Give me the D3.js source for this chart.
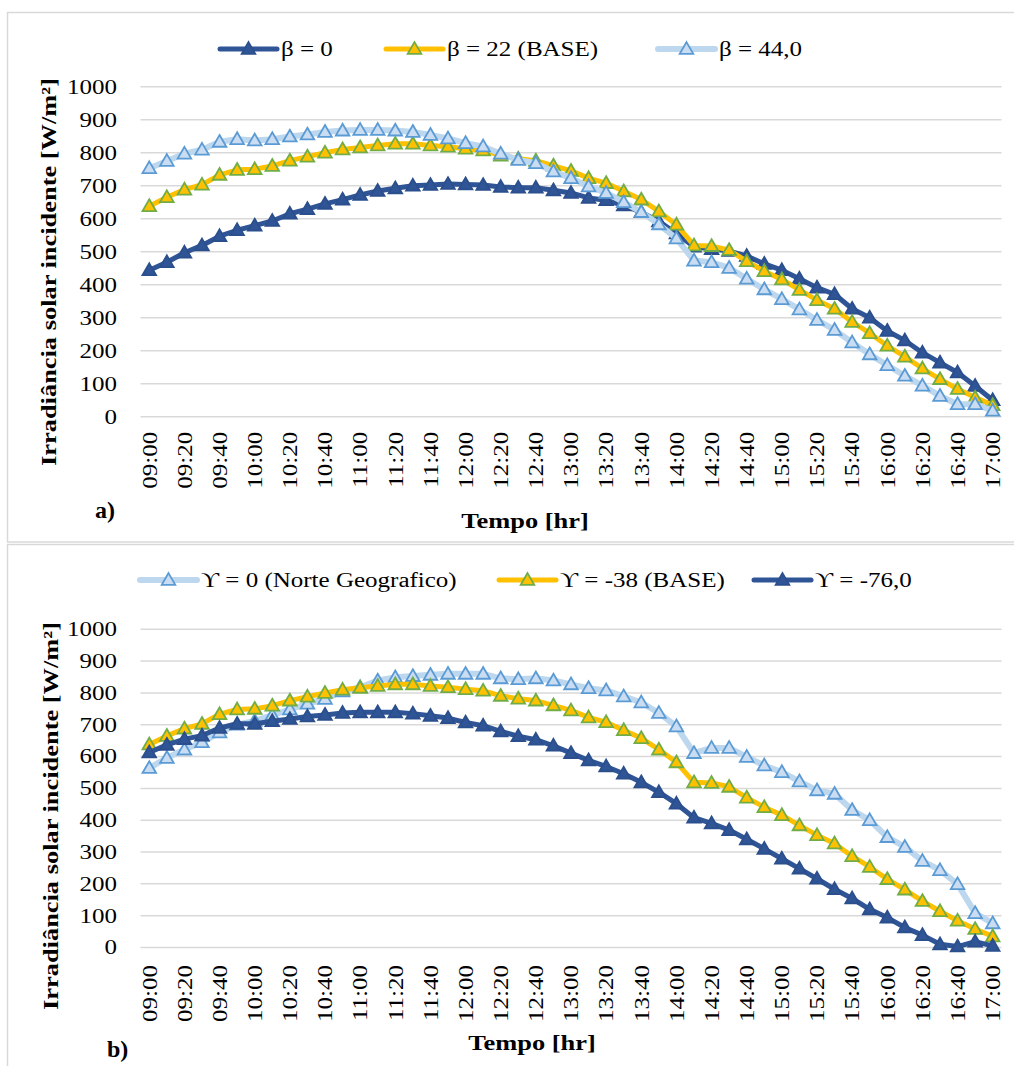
<!DOCTYPE html>
<html>
<head>
<meta charset="utf-8">
<script src="https://cdn.jsdelivr.net/npm/d3@7"></script>
<style>
  body { margin: 0; background: #fff; }
  text { font-family: "Liberation Serif", "Times New Roman", serif; fill: #000; }
</style>
</head>
<body>
<div id="grafic"></div>
<script>
// Categorias (eixo x) - passos de 10 minutos
const horas = ["09:00","09:10","09:20","09:30","09:40","09:50","10:00","10:10","10:20","10:30",
  "10:40","10:50","11:00","11:10","11:20","11:30","11:40","11:50","12:00","12:10",
  "12:20","12:30","12:40","12:50","13:00","13:10","13:20","13:30","13:40","13:50",
  "14:00","14:10","14:20","14:30","14:40","14:50","15:00","15:10","15:20","15:30",
  "15:40","15:50","16:00","16:10","16:20","16:30","16:40","16:50","17:00"];

const yTicks = [0, 100, 200, 300, 400, 500, 600, 700, 800, 900, 1000];

// Caso base (beta = 22, gamma = -38) - igual nos dois graficos
const serieBase = [638, 665, 688, 703, 733, 748, 750, 760, 776, 788, 800, 810, 816, 822, 827, 827, 822, 818, 812, 807,
  791, 782, 776, 761, 745, 723, 708, 683, 658, 622, 582, 519, 517, 505, 471, 441, 416, 384, 353, 327,
  287, 253, 215, 182, 146, 114, 84, 58, 35];

// a) inclinacao
const betaZero = [444, 468, 497, 519, 547, 565, 579, 593, 615, 629, 645, 658, 672, 684, 692, 700, 702, 705, 704, 702,
  696, 694, 694, 686, 678, 663, 656, 640, 620, 592, 555, 515, 508, 502, 487, 463, 444, 418, 391, 371,
  327, 300, 260, 231, 194, 164, 134, 93, 50];
const betaQuarenta = [753, 775, 797, 809, 833, 841, 837, 841, 849, 855, 863, 867, 869, 869, 867, 863, 854, 843, 829, 819,
  797, 778, 768, 743, 723, 698, 678, 650, 620, 583, 540, 473, 468, 451, 418, 386, 356, 325, 293, 263,
  225, 189, 156, 124, 94, 63, 38, 38, 18];

// b) azimute
const gamaNorte = [564, 596, 622, 645, 676, 700, 712, 730, 748, 766, 781, 805, 818, 839, 849, 853, 857, 860, 860, 860,
  846, 843, 846, 839, 827, 815, 808, 789, 770, 737, 695, 611, 627, 627, 599, 572, 551, 522, 494, 483,
  432, 400, 347, 316, 272, 243, 199, 108, 76];
const gamaSetenta = [613, 637, 655, 666, 690, 703, 703, 711, 718, 726, 731, 737, 739, 739, 739, 735, 728, 721, 707, 697,
  679, 664, 653, 634, 611, 588, 569, 546, 519, 488, 452, 408, 390, 369, 340, 310, 279, 248, 216, 183,
  154, 120, 94, 63, 39, 10, 3, 18, 5];

const W = 1014, H = 1066;
const K = 1.25; // a fonte original e mais larga que a Times

const estilos = {
  escuro:  { line: "#2f5597", w: 5, fill: "#2f5597", stroke: "#2b4f8c" },
  amarelo: { line: "#ffc000", w: 5, fill: "#ffc000", stroke: "#70ad47" },
  claro:   { line: "#bdd7ee", w: 6, fill: "#c9dcf1", stroke: "#5b9bd5" }
};

const svg = d3.select("#grafic").append("svg")
  .attr("width", W).attr("height", H);

function estica(sel, k) {
  sel.each(function () {
    const w = this.getComputedTextLength();
    d3.select(this).attr("textLength", w * k).attr("lengthAdjust", "spacingAndGlyphs");
  });
}

const tri = d3.symbol(d3.symbolTriangle, 80);

function painel(cfg) {
  const g = svg.append("g");

  // moldura
  g.append("rect")
    .attr("x", 7.5).attr("y", cfg.boxTop)
    .attr("width", 1030).attr("height", cfg.boxH)
    .attr("fill", "none").attr("stroke", "#d9d9d9").attr("stroke-width", 1.5);

  const x = d3.scalePoint().domain(horas).range([140.5, 1001.5]).padding(0.5);
  const y = d3.scaleLinear().domain([0, 1000]).range([cfg.y0, cfg.y1000]);

  // grelha
  g.append("g").selectAll("line")
    .data(yTicks).enter().append("line")
    .attr("x1", 140.5).attr("x2", 1001.5)
    .attr("y1", d => y(d)).attr("y2", d => y(d))
    .attr("stroke", "#d9d9d9").attr("stroke-width", 1.5);

  // eixo y
  const ay = g.append("g").attr("transform", "translate(140,0)")
    .call(d3.axisLeft(y).tickValues(yTicks).tickFormat(d3.format("d")).tickSize(0).tickPadding(23));
  ay.select(".domain").remove();
  ay.selectAll("text").style("font-size", "20px").attr("font-family", null);
  estica(ay.selectAll("text"), K);

  // eixo x (rotulos de 20 em 20 min)
  const ax = g.append("g").attr("transform", `translate(0,${cfg.y0})`)
    .call(d3.axisBottom(x).tickValues(horas.filter((d, i) => i % 2 === 0)).tickSize(0));
  ax.select(".domain").remove();
  ax.selectAll("text")
    .style("font-size", "20px").attr("font-family", null)
    .attr("text-anchor", "end")
    .attr("transform", "rotate(-90)")
    .attr("x", -cfg.labGap).attr("y", 0).attr("dy", "0.34em");
  estica(ax.selectAll("text"), K);

  // series
  const linha = d3.line().x((d, i) => x(horas[i])).y(d => y(d));
  cfg.series.forEach(s => {
    const st = estilos[s.estilo];
    g.append("path").datum(s.valores)
      .attr("d", linha).attr("fill", "none")
      .attr("stroke", st.line).attr("stroke-width", st.w)
      .attr("stroke-linejoin", "round");
    g.append("g").selectAll("path")
      .data(s.valores).enter().append("path")
      .attr("d", tri)
      .attr("transform", (d, i) => `translate(${x(horas[i])},${y(d) + 1})`)
      .attr("fill", st.fill).attr("stroke", st.stroke).attr("stroke-width", 1.8);
  });

  // legenda
  cfg.series.forEach(s => {
    const st = estilos[s.estilo];
    const lg = g.append("g").attr("transform", `translate(${s.lx},${cfg.legY})`);
    lg.append("line").attr("x1", 0).attr("x2", 57)
      .attr("stroke", st.line).attr("stroke-width", st.w).attr("stroke-linecap", "round");
    lg.append("path").attr("d", tri).attr("transform", "translate(28.5,1)")
      .attr("fill", st.fill).attr("stroke", st.stroke).attr("stroke-width", 1.8);
    const t = lg.append("text").attr("x", 61).attr("dy", "0.35em")
      .style("font-size", "20px").text(s.nome);
    estica(t, K);
  });

  // titulos
  const ty = g.append("text")
    .attr("transform", `translate(${cfg.ytX},${cfg.ytY}) rotate(-90)`)
    .attr("text-anchor", "middle").attr("dy", "0.35em")
    .style("font-size", "22px").style("font-weight", "bold")
    .text("Irradiância solar incidente [W/m²]");
  estica(ty, 1.2);

  const tx = g.append("text")
    .attr("x", cfg.xtX).attr("y", cfg.xtY).attr("text-anchor", "middle")
    .style("font-size", "22px").style("font-weight", "bold")
    .text("Tempo [hr]");
  estica(tx, 1.2);

  g.append("text").attr("x", cfg.letX).attr("y", cfg.letY)
    .style("font-size", "24px").style("font-weight", "bold")
    .text(cfg.letra);
}

painel({
  boxTop: 12.5, boxH: 529.5, y0: 416.7, y1000: 86.7, labGap: 15,
  legY: 49, ytX: 48, ytY: 272, xtX: 525, xtY: 528, letX: 95, letY: 518, letra: "a)",
  series: [
    { nome: "β = 0", valores: betaZero, estilo: "escuro", lx: 220 },
    { nome: "β = 22 (BASE)", valores: serieBase, estilo: "amarelo", lx: 386 },
    { nome: "β = 44,0", valores: betaQuarenta, estilo: "claro", lx: 658 }
  ]
});

painel({
  boxTop: 544.5, boxH: 560, y0: 947.5, y1000: 629.3, labGap: 17.5,
  legY: 580, ytX: 50, ytY: 816, xtX: 532, xtY: 1050, letX: 107, letY: 1057, letra: "b)",
  series: [
    { nome: "ϒ = 0 (Norte Geografico)", valores: gamaNorte, estilo: "claro", lx: 140 },
    { nome: "ϒ = -38 (BASE)", valores: serieBase, estilo: "amarelo", lx: 499 },
    { nome: "ϒ = -76,0", valores: gamaSetenta, estilo: "escuro", lx: 754 }
  ]
});
</script>
</body>
</html>
